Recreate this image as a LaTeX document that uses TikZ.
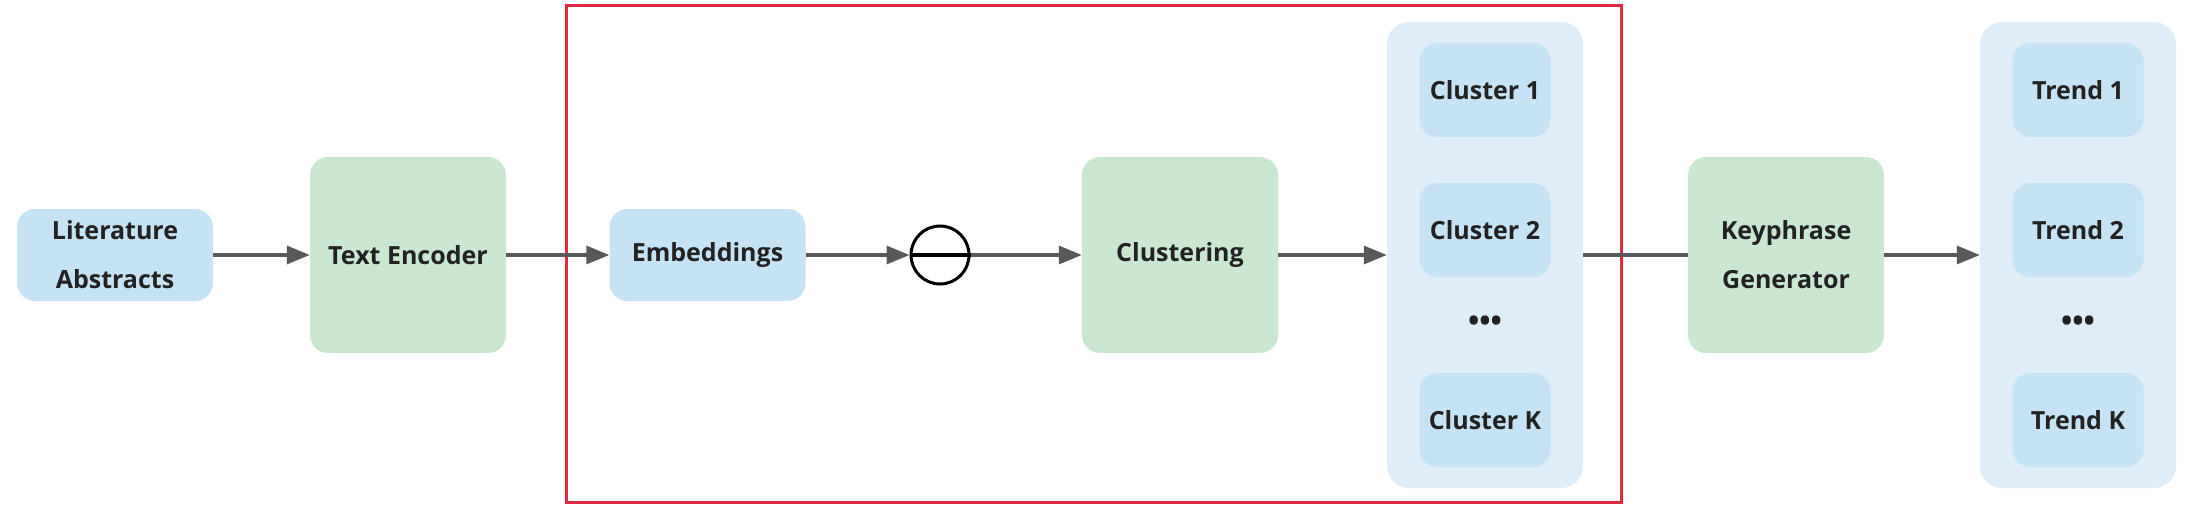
\documentclass[tikz,border=0pt]{standalone}
\usepackage{fontspec}
\setmainfont{Open Sans}
\usetikzlibrary{arrows.meta}
\definecolor{boxblue}{HTML}{C5E3F5}
\definecolor{boxgreen}{HTML}{C9E7D1}
\definecolor{panelblue}{HTML}{DFEDF9}
\definecolor{framered}{HTML}{E0283F}
\definecolor{arrowgray}{HTML}{595959}
\definecolor{txt}{HTML}{222222}
\begin{document}
\begin{tikzpicture}[x=1pt,y=-1pt,
 lbl/.style={font=\fontsize{25}{49}\selectfont\bfseries, text=txt, align=center, inner sep=0pt},
 bluebox/.style={lbl, fill=boxblue, rounded corners=18pt, minimum width=196pt, minimum height=92pt},
 greenbox/.style={lbl, fill=boxgreen, rounded corners=18pt, minimum width=196pt, minimum height=196pt},
 panel/.style={fill=panelblue, rounded corners=22pt, minimum width=196pt, minimum height=466pt, inner sep=0pt},
 item/.style={lbl, fill=boxblue, rounded corners=18pt, minimum width=131pt, minimum height=94pt},
 dotsstyle/.style={lbl, font=\fontsize{30}{34}\selectfont\bfseries},
 flow/.style={draw=arrowgray, line width=3.2pt, -{Triangle[length=23pt,width=18pt]}},
 plain/.style={draw=arrowgray, line width=3.2pt}]
\useasboundingbox (0,0) rectangle (2197,508);
\fill[white] (0,0) rectangle (2197,508);
\draw[framered, line width=3pt] (566,6) rectangle (1621,502);
\node[bluebox] (lit) at (115,255) {Literature\\Abstracts};
\node[greenbox] (enc) at (408,255) {Text Encoder};
\node[bluebox] (emb) at (707.5,255) {Embeddings};
\node[circle, draw=black, line width=3pt, minimum size=58pt, inner sep=0pt] (circ) at (940,255) {};
\draw[black, line width=3.5pt] (circ.west) -- (circ.east);
\node[greenbox] (clu) at (1180,255) {Clustering};
\node[panel] (cpanel) at (1485,255) {};
\node[item] (c1) at (1485,90) {Cluster 1};
\node[item] (c2) at (1485,230) {Cluster 2};
\node[dotsstyle] (cdots) at (1485,324) {•••};
\node[item] (ck) at (1485,420) {Cluster K};
\node[greenbox] (key) at (1786,255) {Keyphrase\\Generator};
\node[panel] (tpanel) at (2078,255) {};
\node[item] (t1) at (2078,90) {Trend 1};
\node[item] (t2) at (2078,230) {Trend 2};
\node[dotsstyle] (tdots) at (2078,324) {•••};
\node[item] (tk) at (2078,420) {Trend K};
\draw[flow] (lit.east) -- (enc.west);
\draw[flow] (enc.east) -- (emb.west);
\draw[flow] (emb.east) -- (circ.west);
\draw[flow] (circ.east) -- (clu.west);
\draw[flow] (clu.east) -- (cpanel.west);
\draw[plain] (cpanel.east) -- (key.west);
\draw[flow] (key.east) -- (tpanel.west);
\end{tikzpicture}
\end{document}
